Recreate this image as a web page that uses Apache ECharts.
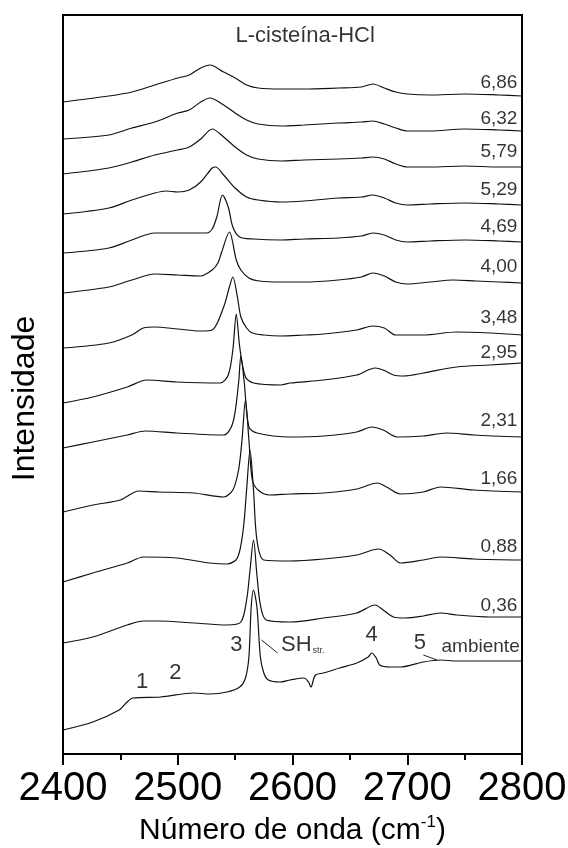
<!DOCTYPE html>
<html><head><meta charset="utf-8">
<script src="https://cdn.jsdelivr.net/npm/echarts@6/dist/echarts.min.js"></script>
<style>html,body{margin:0;padding:0;background:#fff}#c{width:568px;height:848px}</style>
</head><body><div id="c"></div>
<script>
// Wavenumber (cm-1) vs. offset intensity (arbitrary units) for each pH spectrum
const s686 = [[2400,652],[2440,658],[2460,662],[2480,669],[2500,676],[2510,679],[2520,686],[2528,689],[2540,682],[2550,676],[2560,669],[2570,666],[2590,665],[2610,665],[2640,666],[2660,667],[2670,670],[2680,666],[2690,662],[2700,660],[2720,659],[2750,660],[2780,659],[2800,658]];
const s632 = [[2400,615],[2440,619],[2460,626],[2480,632],[2500,641],[2510,644],[2520,652],[2528,656],[2540,649],[2550,641],[2560,634],[2570,630],[2590,628],[2610,629],[2640,631],[2660,632],[2670,633],[2680,630],[2690,626],[2700,623],[2720,623],[2750,625],[2780,624],[2800,623]];
const s579 = [[2400,580],[2440,586],[2460,592],[2480,599],[2500,604],[2510,607],[2520,615],[2530,625],[2540,617],[2550,607],[2560,599],[2570,595],[2590,593],[2610,594],[2640,595],[2660,596],[2670,597],[2680,595],[2690,590],[2700,587],[2720,587],[2750,588],[2780,587],[2800,587]];
const s529 = [[2400,540],[2440,546],[2460,554],[2480,561],[2490,563],[2500,562],[2510,564],[2520,572],[2530,586],[2533,587],[2540,579],[2550,566],[2560,557],[2570,554],[2590,552],[2610,553],[2640,556],[2660,557],[2670,559],[2680,556],[2690,551],[2700,549],[2720,550],[2750,551],[2780,550],[2800,549]];
const s469 = [[2400,501],[2440,506],[2460,514],[2480,521],[2500,521],[2525,521],[2530,525],[2534,537],[2539,559],[2544,547],[2548,527],[2554,517],[2566,515],[2590,514],[2610,515],[2640,516],[2660,518],[2670,521],[2680,519],[2690,514],[2700,512],[2720,513],[2750,514],[2780,513],[2800,512]];
const s400 = [[2400,461],[2440,467],[2460,474],[2480,480],[2500,479],[2520,478],[2530,484],[2535,491],[2538,501],[2545,522],[2551,494],[2555,484],[2562,476],[2571,473],[2590,472],[2610,472],[2640,474],[2660,477],[2670,481],[2680,478],[2690,472],[2700,470],[2720,472],[2740,474],[2760,473],[2780,472],[2800,471]];
const s348 = [[2400,406],[2440,411],[2460,419],[2470,426],[2480,427],[2500,425],[2520,423],[2530,424],[2540,447],[2545,467],[2548,477],[2552,457],[2555,437],[2560,426],[2565,421],[2575,419],[2590,418],[2610,419],[2627,420],[2656,424],[2670,428],[2680,426],[2690,419],[2714,419],[2743,422],[2772,421],[2800,419]];
const s295 = [[2400,351],[2426,357],[2456,367],[2473,374],[2499,372],[2537,371],[2544,379],[2548,404],[2551,440],[2554,407],[2559,377],[2566,371],[2590,369],[2598,371],[2627,374],[2656,379],[2672,386],[2679,384],[2688,379],[2697,378],[2714,381],[2743,387],[2772,389],[2800,391]];
const s231 = [[2400,306],[2426,312],[2456,319],[2472,323],[2499,321],[2540,319],[2548,331],[2553,371],[2555,398],[2558,371],[2562,327],[2569,321],[2598,317],[2627,318],[2656,322],[2669,327],[2679,324],[2691,317],[2714,318],[2734,321],[2758,319],[2800,317]];
const s166 = [[2400,242],[2426,249],[2450,254],[2466,263],[2484,262],[2514,261],[2540,257],[2548,264],[2553,284],[2556,314],[2559,354],[2562,314],[2565,274],[2570,264],[2580,259],[2598,260],[2627,261],[2656,265],[2674,271],[2682,267],[2694,260],[2714,262],[2729,267],[2758,264],[2800,262]];
const s088 = [[2400,172],[2426,181],[2456,191],[2470,197],[2499,196],[2528,191],[2543,190],[2552,196],[2557,224],[2560,264],[2563,304],[2566,264],[2569,214],[2575,194],[2598,193],[2627,195],[2656,199],[2675,205],[2685,199],[2694,191],[2714,194],[2729,197],[2758,195],[2800,194]];
const s036 = [[2400,111],[2426,117],[2456,129],[2470,133],[2484,133],[2514,131],[2543,129],[2555,132],[2560,154],[2563,184],[2566,214],[2569,179],[2572,149],[2577,134],[2598,132],[2627,136],[2656,141],[2672,149],[2679,144],[2688,137],[2698,136],[2714,138],[2729,141],[2743,139],[2772,137],[2800,137]];
const sAmb = [[2400,24],[2426,32],[2449,44],[2455,51],[2461,56],[2485,57],[2514,61],[2528,60],[2543,62],[2554,67],[2559,76],[2562,97],[2564,147],[2566,164],[2569,147],[2572,97],[2575,81],[2579,74],[2589,72],[2598,74],[2610,76],[2614,72],[2616,67],[2620,79],[2627,81],[2641,86],[2656,91],[2666,97],[2669,101],[2673,96],[2676,89],[2685,87],[2694,87],[2714,92],[2729,94],[2743,93],[2772,93],[2800,93]];

const spectra = [s686, s632, s579, s529, s469, s400, s348, s295, s231, s166, s088, s036, sAmb];
const phLabels = ['6,86','6,32','5,79','5,29','4,69','4,00','3,48','2,95','2,31','1,66','0,88','0,36'];

// annotation anchor positions (data coordinates)
const phLabelX = 2796;
const phLabelY = [671, 635, 602, 564, 527, 487, 436, 401, 333, 275, 207, 148];
const bandMarks = [['1',2469,72],['2',2498,81],['3',2551,109],['4',2669,119],['5',2711,111]];
const shLeader = [[2573,114],[2587,101]];
const ambLeader = [[2714,99],[2726,94]];

const chart = echarts.init(document.getElementById('c'), null, {renderer:'canvas'});
const FONT = '"Liberation Sans", Arial, sans-serif';
const ink = '#000';

const series = spectra.map(d => ({
  type:'line', data:d, showSymbol:false, smooth:0.3,
  lineStyle:{color:'#111', width:1.2}, silent:true, z:2
}));

series.push({
  type:'scatter', symbolSize:0, silent:true, z:5,
  data: phLabels.map((t,i)=>[phLabelX, phLabelY[i], t]),
  label:{show:true, position:'left', distance:0, formatter:p=>p.data[2],
    fontFamily:FONT, fontSize:19, color:ink}
});
series.push({
  type:'scatter', symbolSize:0, silent:true, z:5,
  data: bandMarks.map(b=>[b[1], b[2], b[0]]),
  label:{show:true, position:'inside', formatter:p=>p.data[2],
    fontFamily:FONT, fontSize:22, color:ink}
});
series.push({
  type:'scatter', symbolSize:0, silent:true, z:5,
  data: [[2798, 107, 'ambiente']],
  label:{show:true, position:'left', distance:0, formatter:p=>p.data[2],
    fontFamily:FONT, fontSize:19, color:ink}
});
series.push({
  type:'scatter', symbolSize:0, silent:true, z:5,
  data: [[2590, 109, 'SH']],
  label:{show:true, position:'right', distance:0, formatter:'{a|SH}{b|str.}',
    rich:{a:{fontFamily:FONT, fontSize:22, color:ink},
          b:{fontFamily:FONT, fontSize:9, color:ink, padding:[12,0,0,1]}}}
});
series.push({
  type:'scatter', symbolSize:0, silent:true, z:5,
  data: [[2611, 718, 'L-cisteína-HCl']],
  label:{show:true, position:'inside', formatter:p=>p.data[2],
    fontFamily:FONT, fontSize:22, color:ink}
});
[shLeader, ambLeader].forEach(l => series.push({
  type:'line', data:l, showSymbol:false, silent:true, z:3,
  lineStyle:{color:'#222', width:1}
}));

chart.setOption({
  animation:false,
  backgroundColor:'#fff',
  grid:{left:63, right:46, top:15, bottom:94, outerBoundsMode:'none', containLabel:false,
        show:true, borderColor:'#000', borderWidth:2, backgroundColor:'transparent'},
  xAxis:{
    type:'value', min:2400, max:2800, interval:100,
    axisLine:{show:true, lineStyle:{color:'#000', width:2}},
    axisTick:{show:true, inside:false, length:11, lineStyle:{color:'#000', width:2}},
    minorTick:{show:true, splitNumber:2, length:6, lineStyle:{color:'#000', width:2}},
    splitLine:{show:false},
    axisLabel:{fontFamily:FONT, fontSize:40, color:'#000', margin:15, formatter:v=>String(v)},
    name:'{a|Número de onda (cm}{s|-1}{a|)}',
    nameLocation:'middle', nameGap:55,
    nameTextStyle:{rich:{a:{fontFamily:FONT, fontSize:30, color:'#000'},
                         s:{fontFamily:FONT, fontSize:17, color:'#000', padding:[0,0,16,0]}}}
  },
  yAxis:{
    type:'value', min:0, max:739,
    axisLine:{show:true, lineStyle:{color:'#000', width:2}},
    axisTick:{show:false}, axisLabel:{show:false}, splitLine:{show:false},
    name:'Intensidade', nameLocation:'middle', nameGap:22,
    nameTextStyle:{fontFamily:FONT, fontSize:32, color:'#000', padding:[0,28,0,0]}
  },
  series:series
});
</script></body></html>
